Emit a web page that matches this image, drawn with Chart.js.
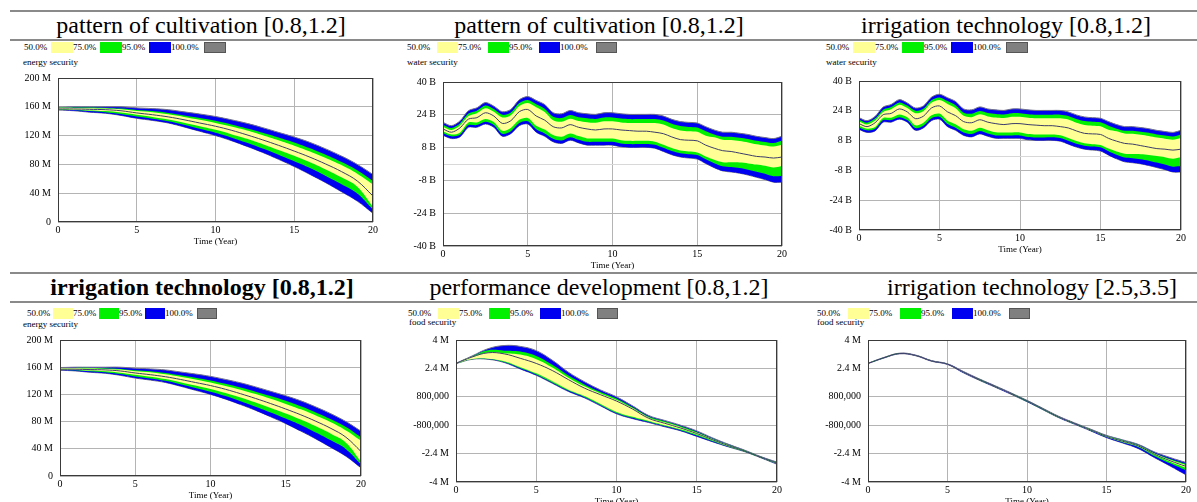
<!DOCTYPE html>
<html>
<head>
<meta charset="utf-8">
<script src="https://cdn.jsdelivr.net/npm/chart.js@4.4.0/dist/chart.umd.min.js"></script>
<style>
body { margin:0; width:1197px; height:502px; overflow:hidden; background:#fff; position:relative; font-family:'Liberation Serif', 'Times New Roman', serif; color:#000; }
.rule { position:absolute; left:10px; width:1187px; height:2px; background:#8a8a8a; }
.title { position:absolute; font-size:24px; line-height:24px; white-space:nowrap; transform:translateX(-50%); }
.legend { position:absolute; display:flex; align-items:center; height:12px; font-size:9px; line-height:12px; }
.legend span { display:inline-block; height:12px; }
.vlabel { position:absolute; font-size:9px; line-height:11px; white-space:nowrap; }
canvas { position:absolute; }
</style>
</head>
<body>
<div class="rule" style="top:10px"></div>
<div class="rule" style="top:39px"></div>
<div class="rule" style="top:272px"></div>
<div class="rule" style="top:301px"></div>
<script>
/* time axis */
const years = [0,1,2,3,4,5,6,7,8,9,10,11,12,13,14,15,16,17,18,19,20];
const halfYears = [0,0.5,1,1.5,2,2.5,3,3.5,4,4.5,5,5.5,6,6.5,7,7.5,8,8.5,9,9.5,10,
                   10.5,11,11.5,12,12.5,13,13.5,14,14.5,15,15.5,16,16.5,17,17.5,18,18.5,19,19.5,20];

/* energy security (M), bounds of the 50/75/95% bands + median */
const energyHi95 = [159.5,160,160,160,160,158.5,157.5,156,153,150,146.5,142,137,131,124.5,118,110.5,101.5,91.5,80,66];
const energyHi75 = [159,159,159,158.5,157.5,155.5,154,151.5,148,144.5,140.5,135.5,130,124,117.5,110.5,102.5,93.5,83.5,72,57];
const energyHi50 = [158.5,158.5,158,157.5,156.5,154,152.5,149.5,146,142,137.5,132.5,127,120.5,113.5,106,98,89,79,67,52];
const energyMid  = [157,157,156.5,156,154.5,151.5,149,146,142,137.5,133,127.5,121,114,106.5,98.5,90,80.5,70,57,36];
const energyLo50 = [156.5,156,155,154,152,149,146,142.5,138,133,128,122,115.5,108,100,92,83,73,62,49,21];
const energyLo75 = [156,155.5,154,152.5,150,146.5,143.5,140,135,129.5,124,117.5,110,102,93.5,84.5,75,64,52.5,39.5,17];
const energyLo95 = [155.5,154.5,152.5,151,148,144,141,137.5,132,126,120,113,105,96.5,87,77,66,54.5,42,29,12];

/* water security (B) */
const waterHi95 = [20.3,18.7,21,26,27.4,30,28.2,25.5,26.6,31.3,32.9,31,29,25,24.5,26.1,25,24.5,24.2,25,25,24.5,24.2,24.2,24.2,24.2,23.4,21.8,20.7,20.3,20,18.2,16.6,15.5,15.5,15,14.4,13.5,12.9,12.4,13.5];
const waterHi75 = [19.2,17.6,19.8,24.6,26,28.5,26.8,24,25.1,29.7,31.2,29.2,27,23,22.4,23.9,22.8,22.3,22,22.7,22.7,22.2,21.9,21.9,21.9,21.9,21.2,19.6,18.5,18.1,17.8,16,14.4,13.3,13.3,12.8,12.2,11.3,10.7,10.2,11.3];
const waterHi50 = [18.2,16.6,18.8,23.4,24.8,27.2,25.5,22.7,23.8,28.3,29.8,27.7,25.4,21.3,20.6,22.1,21,20.4,20.1,20.8,20.8,20.3,20,20,20,20,19.3,17.6,16.4,16,15.7,13.8,13,11.8,11.7,11.2,10.5,9.6,9,8.5,9.4];
const waterMid  = [17.1,15.5,17.6,21.9,22.6,25,23.4,19.8,21.1,25.5,26.6,23.4,21.4,18.2,17.6,19.2,17.9,17.1,16.6,17.1,17.1,16.6,16.3,16,16,15.5,14.8,13.2,11.9,11.6,11.3,9.2,7.7,6.5,6.1,5.3,4.5,3.7,3.4,2.9,3.4];
const waterLo50 = [16,14.4,15.3,20.2,20.3,22,20.5,16.2,17.6,21.6,22.5,18.7,16.8,14.1,13.3,14.9,13.6,12.5,12.4,12.4,12.4,11.6,11.3,11.3,11.3,10.9,9.4,7.8,6.6,6.1,5.6,3.7,2.1,0.9,0.8,0.7,0.3,-0.3,-0.9,-1.7,-1];
const waterLo75 = [15.1,13.5,14.3,19,19,20.6,19,14.7,16,20,20.8,16.9,14.9,12.3,11.5,13.1,11.8,10.8,10.8,10.8,10.8,10,9.7,9.7,9.8,9.4,7.9,6.3,5.3,4.8,4.4,2.3,0.4,-1.1,-1.5,-2,-2.8,-3.8,-4.8,-6,-5.7];
const waterLo95 = [14,12.4,13.2,17.9,17.9,19.5,17.9,13.5,14.8,18.7,19.5,15.5,13.5,10.8,10,11.6,10.3,9.2,9.2,9.2,9.2,8.4,8.1,8.1,8.1,7.7,6.1,4.5,3.4,2.9,2.4,0.2,-1.8,-3.4,-3.9,-4.5,-5.4,-6.5,-7.6,-8.9,-8.9];

/* food security (M), performance development */
const foodPHi95 = [2.69,3.1,3.51,3.69,3.64,3.4,2.86,2.19,1.65,1.19,0.8,0.29,-0.25,-0.53,-0.8,-1.12,-1.52,-1.88,-2.21,-2.57,-2.88];
const foodPHi75 = [2.69,3.07,3.42,3.4,3.35,3.1,2.6,2.0,1.5,1.07,0.7,0.21,-0.31,-0.58,-0.86,-1.18,-1.56,-1.91,-2.23,-2.59,-2.9];
const foodPHi50 = [2.68,3.05,3.3,3.26,3.18,2.92,2.45,1.88,1.39,0.99,0.62,0.15,-0.36,-0.64,-0.91,-1.23,-1.59,-1.94,-2.25,-2.6,-2.92];
const foodPMid  = [2.68,3.04,3.28,3.22,2.97,2.68,2.28,1.77,1.29,0.92,0.56,0.11,-0.41,-0.69,-0.96,-1.27,-1.62,-1.96,-2.26,-2.61,-2.94];
const foodPLo50 = [2.68,2.93,2.95,2.8,2.47,2.12,1.67,1.2,0.84,0.4,-0.05,-0.33,-0.56,-0.8,-1.03,-1.33,-1.66,-1.99,-2.27,-2.62,-2.96];
const foodPLo75 = [2.67,2.92,2.93,2.76,2.42,2.06,1.61,1.15,0.79,0.34,-0.11,-0.38,-0.61,-0.85,-1.08,-1.38,-1.7,-2.01,-2.29,-2.63,-2.98];
const foodPLo95 = [2.67,2.91,2.91,2.73,2.37,2.01,1.56,1.1,0.74,0.29,-0.16,-0.43,-0.65,-0.89,-1.12,-1.43,-1.74,-2.03,-2.3,-2.64,-3.0];

/* food security (M), irrigation technology [2.5,3.5] */
const foodIHi95 = [2.69,3.02,3.26,3.15,2.84,2.66,2.23,1.81,1.42,1.02,0.6,0.15,-0.3,-0.67,-1.02,-1.37,-1.62,-1.88,-2.3,-2.62,-2.9];
const foodIHi75 = [2.69,3.01,3.25,3.14,2.83,2.65,2.21,1.79,1.4,1.0,0.58,0.13,-0.32,-0.69,-1.04,-1.4,-1.65,-1.92,-2.36,-2.7,-2.98];
const foodIHi50 = [2.68,3.0,3.245,3.135,2.825,2.645,2.2,1.78,1.39,0.99,0.57,0.12,-0.33,-0.7,-1.05,-1.41,-1.67,-1.95,-2.4,-2.75,-3.05];
const foodIMid  = [2.68,3.0,3.24,3.13,2.82,2.64,2.19,1.77,1.38,0.98,0.56,0.11,-0.34,-0.71,-1.07,-1.43,-1.7,-1.97,-2.43,-2.8,-3.12];
const foodILo50 = [2.68,3.0,3.235,3.125,2.815,2.635,2.18,1.76,1.37,0.97,0.55,0.1,-0.35,-0.72,-1.09,-1.45,-1.73,-2.0,-2.47,-2.86,-3.2];
const foodILo75 = [2.67,2.99,3.23,3.12,2.81,2.63,2.17,1.75,1.36,0.96,0.54,0.09,-0.36,-0.73,-1.1,-1.47,-1.76,-2.04,-2.53,-2.95,-3.35];
const foodILo95 = [2.67,2.98,3.22,3.11,2.8,2.62,2.15,1.73,1.34,0.94,0.52,0.07,-0.38,-0.75,-1.12,-1.5,-1.8,-2.12,-2.62,-3.1,-3.6];

/* tick labels */
const energyTicks = ['0','40 M','80 M','120 M','160 M','200 M'];
const waterTicks = ['-40 B','-24 B','-8 B','8 B','24 B','40 B'];
const foodTicks = ['-4 M','-2.4 M','-800,000','800,000','2.4 M','4 M'];
const xTicks = ['0','5','10','15','20'];
const legendLabels = ['50.0%','75.0%','95.0%','100.0%'];
const legendColors = ['#ffff96','#00f000','#0000f0','#808080'];

const energySet = {hi95:energyHi95, hi75:energyHi75, hi50:energyHi50, mid:energyMid, lo50:energyLo50, lo75:energyLo75, lo95:energyLo95};
const waterSet = {hi95:waterHi95, hi75:waterHi75, hi50:waterHi50, mid:waterMid, lo50:waterLo50, lo75:waterLo75, lo95:waterLo95};
const foodPSet = {hi95:foodPHi95, hi75:foodPHi75, hi50:foodPHi50, mid:foodPMid, lo50:foodPLo50, lo75:foodPLo75, lo95:foodPLo95};
const foodISet = {hi95:foodIHi95, hi75:foodIHi75, hi50:foodIHi50, mid:foodIMid, lo50:foodILo50, lo75:foodILo75, lo95:foodILo95};

const panels = [
  {title:'pattern of cultivation [0.8,1.2]', bold:false, cx:201, ty:13, lg:[24,41,27,22,33], label:'energy security', lx:23, ly:57,
   plot:[58,73,373,222], t:years, set:energySet, yr:[0,200,40], ticks:energyTicks, zero:false, tension:0.4},
  {title:'pattern of cultivation [0.8,1.2]', bold:false, cx:599, ty:13, lg:[407,41,30,21,36], label:'water security', lx:407, ly:57,
   plot:[443,77,782,246], t:halfYears, set:waterSet, yr:[-40,40,16], ticks:waterTicks, zero:true, tension:0.3},
  {title:'irrigation technology [0.8,1.2]', bold:false, cx:1006, ty:13, lg:[826,41,27,22,33], label:'water security', lx:826, ly:57,
   plot:[859,76,1181,230], t:halfYears, set:waterSet, yr:[-40,40,16], ticks:waterTicks, zero:true, tension:0.3},
  {title:'irrigation technology [0.8,1.2]', bold:true, cx:202, ty:275, lg:[27,307,26,20,32], label:'energy security', lx:23, ly:319,
   plot:[60,335,361,476], t:years, set:energySet, yr:[0,200,40], ticks:energyTicks, zero:false, tension:0.4},
  {title:'performance development [0.8,1.2]', bold:false, cx:599, ty:275, lg:[408,307,30,21,36], label:'food security', lx:409, ly:317,
   plot:[456,335,777,482], t:years, set:foodPSet, yr:[-4,4,1.6], ticks:foodTicks, zero:false, tension:0.4},
  {title:'irrigation technology [2.5,3.5]', bold:false, cx:1032, ty:275, lg:[817,307,31,21,36], label:'food security', lx:817, ly:317,
   plot:[868,335,1186,482], t:years, set:foodISet, yr:[-4,4,1.6], ticks:foodTicks, zero:false, tension:0.4}
];

const YW = 50, PT = 8, PR = 14, XH = 25;
const FONT = "'Liberation Serif', 'Times New Roman', serif";

/* frame round the plot, light zero line for the water charts */
const framePlugin = {
  id: 'frame',
  beforeDatasetsDraw(chart, args, opts) {
    if (!opts.zero) return;
    const a = chart.chartArea, ctx = chart.ctx;
    const y = Math.round(chart.scales.y.getPixelForValue(0)) + 0.5;
    ctx.save();
    ctx.strokeStyle = '#d8d8d8'; ctx.lineWidth = 1;
    ctx.beginPath(); ctx.moveTo(a.left, y); ctx.lineTo(a.right, y); ctx.stroke();
    ctx.restore();
  },
  afterDatasetsDraw(chart) {
    const a = chart.chartArea, ctx = chart.ctx;
    ctx.save();
    ctx.strokeStyle = '#3a3a3a'; ctx.lineWidth = 1;
    ctx.strokeRect(Math.round(a.left) + 0.5, Math.round(a.top) + 0.5, Math.round(a.right - a.left) - 1, Math.round(a.bottom - a.top) - 1);
    ctx.restore();
  }
};

function addText(cls, txt, x, y, extra) {
  const d = document.createElement('div');
  d.className = cls; d.textContent = txt;
  d.style.left = x + 'px'; d.style.top = y + 'px';
  if (extra) Object.assign(d.style, extra);
  document.body.appendChild(d);
}

function addLegend(lg) {
  const [x, y, tw, bw, tw100] = lg;
  const d = document.createElement('div');
  d.className = 'legend';
  d.style.left = x + 'px'; d.style.top = y + 'px';
  for (let i = 0; i < legendLabels.length; i++) {
    const s = document.createElement('span');
    s.textContent = legendLabels[i];
    s.style.width = (i == 3 ? tw100 : tw) + 'px';
    d.appendChild(s);
    const b = document.createElement('span');
    b.style.width = bw + 'px'; b.style.height = '11px';
    b.style.background = legendColors[i];
    if (i == 3) { b.style.boxSizing = 'border-box'; b.style.border = '1px solid #555'; }
    d.appendChild(b);
  }
  document.body.appendChild(d);
}

function makeChart(p) {
  addText('title', p.title, p.cx, p.ty, p.bold ? {fontWeight:'bold'} : null);
  addLegend(p.lg);
  addText('vlabel', p.label, p.lx, p.ly);

  const [L, T, R, B] = p.plot;
  const cv = document.createElement('canvas');
  cv.width = (R - L) + YW + PR;
  cv.height = PT + (B - T) + XH;
  cv.style.left = (L - YW) + 'px';
  cv.style.top = (T - PT) + 'px';
  document.body.appendChild(cv);

  const pts = arr => p.t.map((x, i) => ({x: x, y: arr[i]}));
  const s = p.set;
  const edge = '#70708a';
  const datasets = [
    {data: pts(s.mid), borderColor: '#3c3c6c', borderWidth: 1, fill: false, order: 0},
    {data: pts(s.hi50), borderWidth: 0, backgroundColor: '#ffff96', fill: '+1', order: 1},
    {data: pts(s.lo50), borderWidth: 0, fill: false, order: 1},
    {data: pts(s.hi75), borderWidth: 0, backgroundColor: '#00f000', fill: '+1', order: 2},
    {data: pts(s.lo75), borderWidth: 0, fill: false, order: 2},
    {data: pts(s.hi95), borderWidth: 1, borderColor: edge, backgroundColor: '#0000f0', fill: '+1', order: 3},
    {data: pts(s.lo95), borderWidth: 1, borderColor: edge, fill: false, order: 3}
  ];
  const [yMin, yMax, yStep] = p.yr;

  new Chart(cv.getContext('2d'), {
    type: 'line',
    data: {datasets: datasets},
    options: {
      responsive: false,
      animation: false,
      devicePixelRatio: 1,
      elements: {point: {radius: 0}, line: {tension: p.tension}},
      layout: {padding: {top: PT, right: PR, left: 0, bottom: 0}},
      plugins: {legend: {display: false}, tooltip: {enabled: false}, frame: {zero: p.zero}},
      scales: {
        x: {
          type: 'linear', min: 0, max: 20,
          ticks: {stepSize: 5, padding: 2, color: '#000', maxRotation: 0, autoSkip: false,
                  font: {family: FONT, size: 10},
                  callback: v => xTicks[Math.round(v / 5)]},
          grid: {color: '#b4b4b4', drawTicks: false},
          border: {display: false},
          title: {display: true, text: 'Time (Year)', color: '#000', padding: 0, font: {family: FONT, size: 9}},
          afterFit: sc => { sc.height = XH; }
        },
        y: {
          type: 'linear', min: yMin, max: yMax,
          ticks: {stepSize: yStep, padding: 7, color: '#000', font: {family: FONT, size: 10},
                  callback: v => p.ticks[Math.round((v - yMin) / yStep)]},
          grid: {color: '#b4b4b4', drawTicks: false},
          border: {display: false},
          afterFit: sc => { sc.width = YW; }
        }
      }
    },
    plugins: [framePlugin]
  });
}

panels.forEach(makeChart);
</script>
</body>
</html>
